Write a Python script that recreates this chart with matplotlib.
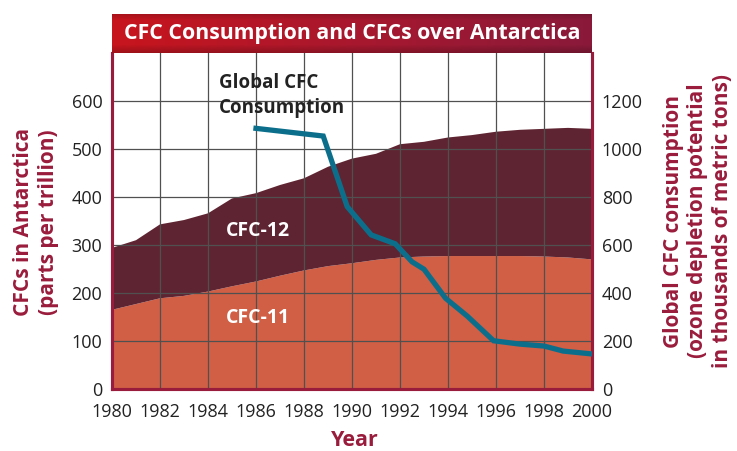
import numpy as np
import matplotlib
matplotlib.use("Agg")
import matplotlib.pyplot as plt
from matplotlib.colors import LinearSegmentedColormap

# ---- data ----
years = [1980, 1981, 1982, 1983, 1984, 1985, 1986, 1987, 1988, 1989, 1990,
         1991, 1992, 1993, 1994, 1995, 1996, 1997, 1998, 1999, 2000]
cfc11 = [165, 177, 189, 194, 203, 214, 224, 236, 247, 256, 262,
         269, 274, 276, 277, 277, 277, 277, 276, 274, 270]
cfc_total = [294, 310, 343, 352, 366, 397, 408, 425, 439, 463, 480,
             490, 510, 515, 524, 529, 536, 540, 542, 544, 542]
cfc12 = [t - a for t, a in zip(cfc_total, cfc11)]

cons_years = [1986, 1988.8, 1989.8, 1990.8, 1991.8, 1992.5, 1993, 1993.9,
              1994.8, 1995.9, 1997, 1998, 1998.8, 2000]
consumption = [1086, 1054, 760, 642, 605, 530, 499, 378,
               304, 201, 187, 179, 158, 146]

xticks = list(range(1980, 2001, 2))
left_ticks = list(range(0, 601, 100))
right_ticks = list(range(0, 1201, 200))

# ---- style ----
C11 = "#d05f45"
C12 = "#5e2431"
TEAL = "#0b6f8c"
CRIM = "#9a1c3c"
GRID = "#505050"
TXT = "#222222"
FONT = ["Open Sans", "DejaVu Sans"]

plt.rcParams["font.family"] = FONT

fig = plt.figure(figsize=(7.37, 4.51), dpi=100)
W, H = 737, 451
L, R, B, T = 112, 592, 389, 53
ax = fig.add_axes([L / W, 1 - B / H, (R - L) / W, (B - T) / H])

ax.stackplot(years, cfc11, cfc12, colors=[C11, C12], linewidth=0, zorder=1)
ax.set_xlim(1980, 2000)
ax.set_ylim(0, 700)
ax.set_xticks(xticks)
ax.set_yticks(left_ticks)
ax.set_xticklabels([str(x) for x in xticks])
ax.tick_params(axis="both", length=0, labelsize=13, colors=TXT)
ax.tick_params(axis="x", pad=10)
ax.tick_params(axis="y", pad=7)
for x in xticks[1:-1]:
    ax.axvline(x, color=GRID, lw=0.9, zorder=2)
for y in left_ticks[1:]:
    ax.axhline(y, color=GRID, lw=0.9, zorder=2)

for side in ["left", "right", "bottom"]:
    ax.spines[side].set_color(CRIM)
    ax.spines[side].set_linewidth(2.2)
ax.spines["top"].set_visible(False)

ax2 = ax.twinx()
ax2.plot(cons_years, consumption, color=TEAL, lw=3.8, solid_joinstyle="miter", zorder=5)
ax2.set_ylim(0, 1400)
ax2.set_yticks(right_ticks)
ax2.tick_params(axis="y", length=0, labelsize=13, colors=TXT, pad=7)
for side in ["left", "right", "bottom"]:
    ax2.spines[side].set_color(CRIM)
    ax2.spines[side].set_linewidth(2.2)
ax2.spines["top"].set_visible(False)

# labels
fig.text(355 / W, 1 - 440 / H, "Year", color=CRIM, fontsize=15.5, fontweight="bold",
         ha="center", va="center")
fig.text(36 / W, 1 - 222 / H, "CFCs in Antarctica\n(parts per trillion)", color=CRIM,
         fontsize=15, fontweight="bold", rotation=90, ha="center", va="center",
         linespacing=1.25)
fig.text(698 / W, 1 - 221 / H,
         "Global CFC consumption\n(ozone depletion potential\nin thousands of metric tons)",
         color=CRIM, fontsize=15, fontweight="bold", rotation=90, ha="center",
         va="center", linespacing=1.2)

ax.text(1984.45, 612, "Global CFC\nConsumption", color=TXT, fontsize=13.5,
        fontweight="bold", ha="left", va="center", linespacing=1.35, zorder=6)
ax.text(1986.1, 330, "CFC-12", color="white", fontsize=14, fontweight="bold",
        ha="center", va="center", zorder=6)
ax.text(1986.1, 147, "CFC-11", color="white", fontsize=14, fontweight="bold",
        ha="center", va="center", zorder=6)

# title bar
tb = fig.add_axes([L / W, 1 - T / H, (R - L) / W, 39 / H])
cmap = LinearSegmentedColormap.from_list("t", ["#c8151e", "#a8182e", "#8a1a3a"])
grad = np.linspace(0, 1, 256)[None, :]
vert = np.concatenate([np.linspace(0.85, 1.0, 6), np.ones(20), np.linspace(1.0, 0.8, 8)])
img = cmap(np.repeat(grad, len(vert), axis=0))
img[..., :3] *= vert[:, None, None]
tb.imshow(img, aspect="auto", extent=[0, 1, 0, 1])
tb.set_xlim(0, 1)
tb.set_ylim(0, 1)
tb.axis("off")
tb.text(0.5, 0.5, "CFC Consumption and CFCs over Antarctica", color="white",
        fontsize=15.3, fontweight="bold", ha="center", va="center")

fig.savefig("out.png", dpi=100)
